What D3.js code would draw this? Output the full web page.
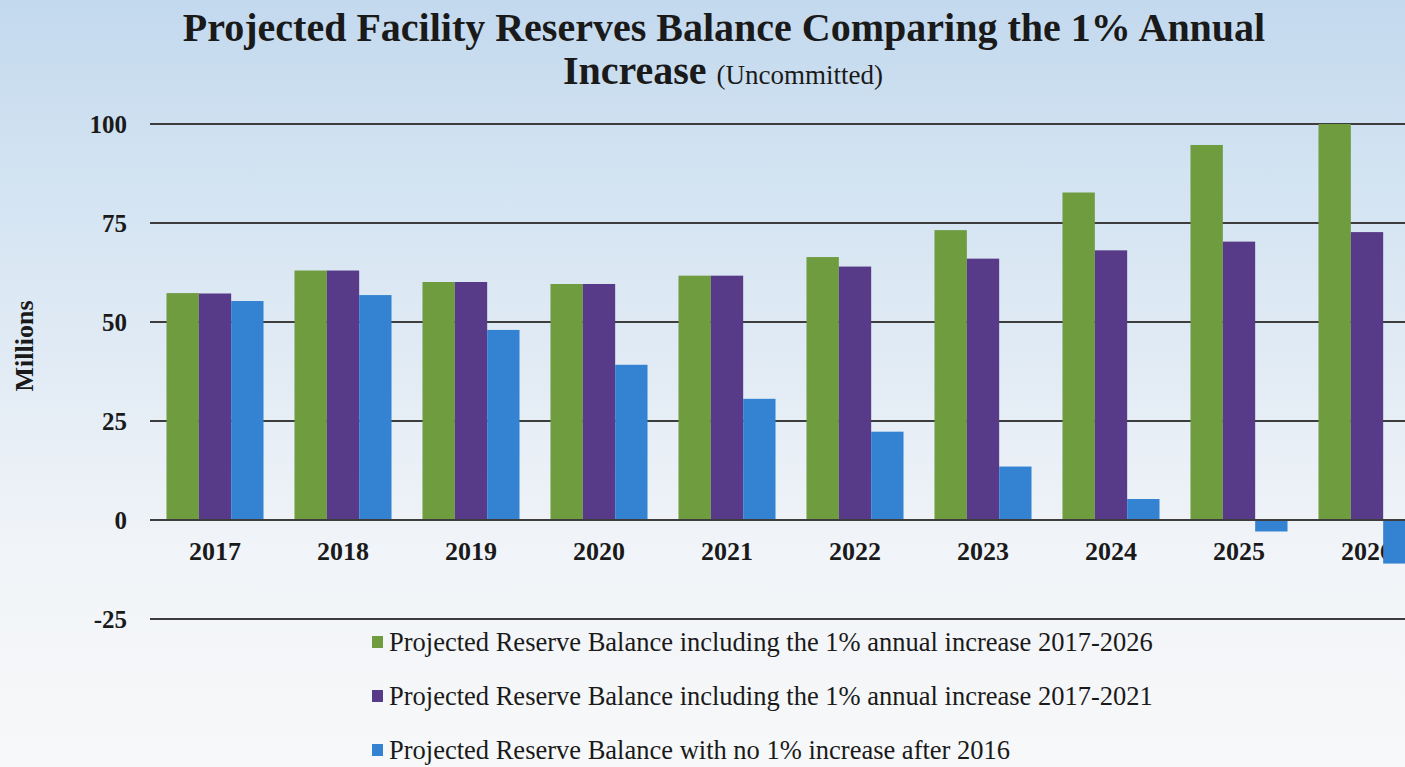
<!DOCTYPE html>
<html>
<head>
<meta charset="utf-8">
<script src="https://cdn.jsdelivr.net/npm/d3@7"></script>
<style>
  html, body { margin: 0; padding: 0; overflow: hidden; }
  svg { display: block; }
  text { font-family: 'Liberation Serif', 'Times New Roman', serif; fill: #1a1a1a; }
</style>
</head>
<body>
<div class="chart"></div>
<script>
const years = ['2017', '2018', '2019', '2020', '2021', '2022', '2023', '2024', '2025', '2026']

// values, in millions
const with1pct2026 = [57.3, 63.0, 60.1, 59.6, 61.7, 66.4, 73.2, 82.7, 94.7, 102]
const with1pct2021 = [57.2, 63.0, 60.1, 59.6, 61.7, 64.0, 66.0, 68.1, 70.3, 72.7]
const noIncrease = [55.3, 56.8, 48.0, 39.2, 30.6, 22.3, 13.5, 5.3, -2.9, -11.0]

const seriesNames = [
  'Projected Reserve Balance including the 1% annual increase 2017-2026',
  'Projected Reserve Balance including the 1% annual increase 2017-2021',
  'Projected Reserve Balance with no 1% increase after 2016'
]
const seriesColors = ['#6e9c3f', '#583b88', '#3483d2']
const yTicks = [-25, 0, 25, 50, 75, 100]

const width = 1405
const height = 767

const svg = d3.select('.chart')
  .append('svg')
  .attr('width', width)
  .attr('height', height)

const defs = svg.append('defs')
const grad = defs.append('linearGradient')
  .attr('id', 'sky')
  .attr('x1', 0).attr('y1', 0).attr('x2', 0).attr('y2', 1)
grad.append('stop').attr('offset', '0%').attr('stop-color', '#c3d9ee')
grad.append('stop').attr('offset', '25%').attr('stop-color', '#d4e4f2')
grad.append('stop').attr('offset', '50%').attr('stop-color', '#e3ecf5')
grad.append('stop').attr('offset', '72%').attr('stop-color', '#f1f4f8')
grad.append('stop').attr('offset', '100%').attr('stop-color', '#f7f8f9')

svg.append('rect')
  .attr('width', width)
  .attr('height', height)
  .attr('fill', 'url(#sky)')

const left = 151
const step = 128

const x = d3.scaleBand()
  .domain(years)
  .range([left, left + step * years.length])
  .paddingInner(0.242)
  .paddingOuter(0.121)

const xInner = d3.scaleBand()
  .domain([0, 1, 2])
  .range([0, x.bandwidth()])

const y = d3.scaleLinear()
  .domain([-25, 100])
  .range([619, 124])

defs.append('clipPath')
  .attr('id', 'plot')
  .append('rect')
  .attr('x', 150)
  .attr('y', y(100))
  .attr('width', width - 150)
  .attr('height', y(-25) - y(100))

// gridlines
svg.append('g')
  .selectAll('line')
  .data(yTicks)
  .join('line')
  .attr('x1', 150)
  .attr('x2', width)
  .attr('y1', d => y(d))
  .attr('y2', d => y(d))
  .attr('stroke', '#3d3d3d')
  .attr('stroke-width', 2)

// y labels
svg.append('g')
  .selectAll('text')
  .data(yTicks)
  .join('text')
  .attr('x', 127)
  .attr('y', d => y(d))
  .attr('dy', '0.35em')
  .attr('text-anchor', 'end')
  .attr('font-size', 25)
  .attr('font-weight', 'bold')
  .text(d => d)

svg.append('text')
  .attr('transform', 'translate(33,346) rotate(-90)')
  .attr('text-anchor', 'middle')
  .attr('font-size', 26)
  .attr('font-weight', 'bold')
  .text('Millions')

// year labels (drawn under the bars, the 2026 bar covers part of it)
svg.append('g')
  .selectAll('text')
  .data(years)
  .join('text')
  .attr('x', d => x(d) + x.bandwidth() / 2)
  .attr('y', 560)
  .attr('text-anchor', 'middle')
  .attr('font-size', 26)
  .attr('font-weight', 'bold')
  .text(d => d)

const allSeries = [with1pct2026, with1pct2021, noIncrease]

const bars = svg.append('g').attr('clip-path', 'url(#plot)')
allSeries.forEach((vals, i) => {
  bars.append('g')
    .selectAll('rect')
    .data(vals)
    .join('rect')
    .attr('x', (d, j) => x(years[j]) + xInner(i))
    .attr('width', xInner.bandwidth())
    .attr('y', d => y(Math.max(0, d)))
    .attr('height', d => Math.abs(y(d) - y(0)))
    .attr('fill', seriesColors[i])
})

// zero line drawn again on top
svg.append('line')
  .attr('x1', 150)
  .attr('x2', width)
  .attr('y1', y(0))
  .attr('y2', y(0))
  .attr('stroke', '#3d3d3d')
  .attr('stroke-width', 2)

// title
svg.append('text')
  .attr('x', 724)
  .attr('y', 41)
  .attr('text-anchor', 'middle')
  .attr('font-size', 40)
  .attr('font-weight', 'bold')
  .text('Projected Facility Reserves Balance Comparing the 1% Annual')

const t2 = svg.append('text')
  .attr('x', 723)
  .attr('y', 84)
  .attr('text-anchor', 'middle')
t2.append('tspan')
  .attr('font-size', 40)
  .attr('font-weight', 'bold')
  .text('Increase ')
t2.append('tspan')
  .attr('font-size', 27)
  .text('(Uncommitted)')

// legend
const legend = svg.append('g')
  .selectAll('g')
  .data(seriesNames)
  .join('g')
  .attr('transform', (d, i) => `translate(372,${650 + i * 54})`)

legend.append('rect')
  .attr('x', 0)
  .attr('y', -14)
  .attr('width', 11)
  .attr('height', 12)
  .attr('fill', (d, i) => seriesColors[i])

legend.append('text')
  .attr('x', 17)
  .attr('y', 1)
  .attr('font-size', 26.5)
  .text(d => d)
</script>
</body>
</html>
